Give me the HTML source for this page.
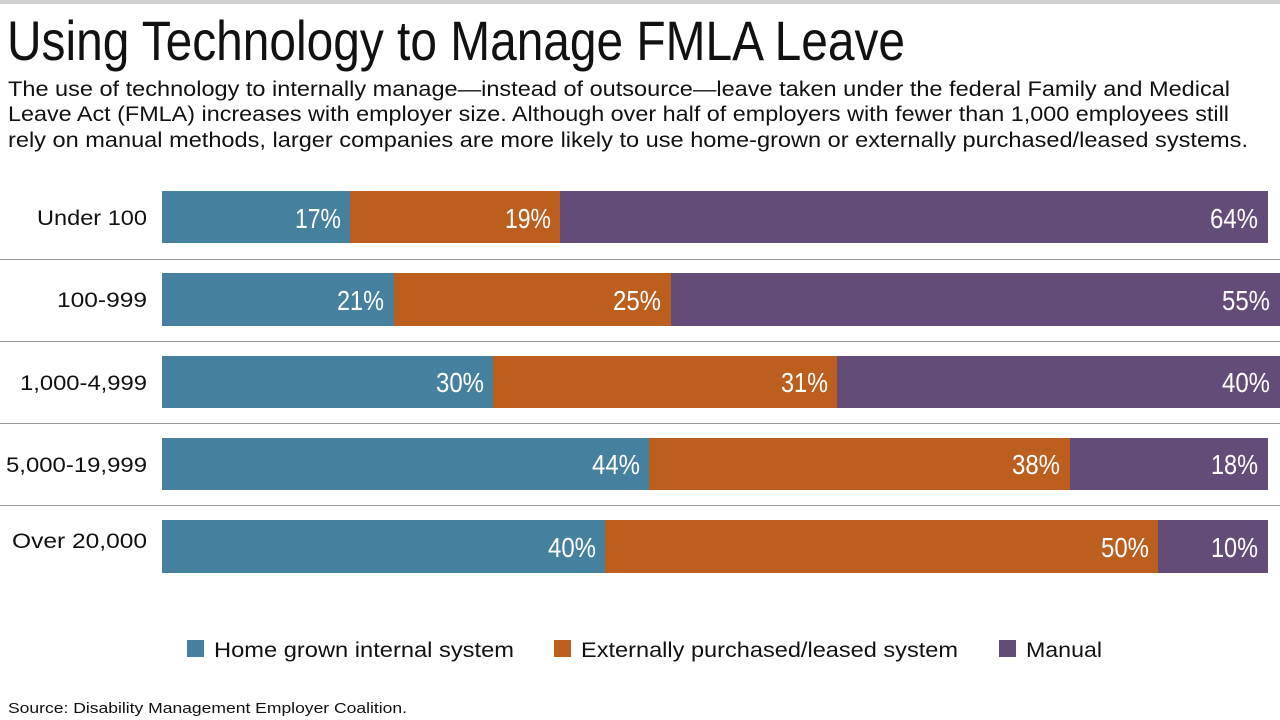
<!DOCTYPE html>
<html><head><meta charset="utf-8"><style>html,body{margin:0;padding:0;background:#fff}svg{display:block}</style></head>
<body>
<svg width="1280" height="720" xmlns="http://www.w3.org/2000/svg" font-family="Liberation Sans, sans-serif">
<rect x="0" y="0" width="1280" height="4" fill="#d0d0d0"/>
<text x="7" y="60" font-family="Liberation Sans Narrow, Liberation Sans, sans-serif" font-size="56" textLength="898" lengthAdjust="spacingAndGlyphs" fill="#111">Using Technology to Manage FMLA Leave</text>
<g font-size="21" fill="#111">
<text x="8" y="96" textLength="1222" lengthAdjust="spacingAndGlyphs">The use of technology to internally manage—instead of outsource—leave taken under the federal Family and Medical</text>
<text x="8" y="121" textLength="1221" lengthAdjust="spacingAndGlyphs">Leave Act (FMLA) increases with employer size. Although over half of employers with fewer than 1,000 employees still</text>
<text x="8" y="147" textLength="1240" lengthAdjust="spacingAndGlyphs">rely on manual methods, larger companies are more likely to use home-grown or externally purchased/leased systems.</text>
</g>
<g stroke="#999" stroke-width="1">
<line x1="0" y1="259.5" x2="1280" y2="259.5"/><line x1="0" y1="341.5" x2="1280" y2="341.5"/>
<line x1="0" y1="423.5" x2="1280" y2="423.5"/><line x1="0" y1="505.5" x2="1280" y2="505.5"/>
</g>
<g font-size="21" fill="#111">
<text x="37" y="225" textLength="110" lengthAdjust="spacingAndGlyphs">Under 100</text>
<text x="57" y="307" textLength="90" lengthAdjust="spacingAndGlyphs">100-999</text>
<text x="20" y="390" textLength="127" lengthAdjust="spacingAndGlyphs">1,000-4,999</text>
<text x="6" y="472" textLength="141" lengthAdjust="spacingAndGlyphs">5,000-19,999</text>
<text x="12" y="548" textLength="135" lengthAdjust="spacingAndGlyphs">Over 20,000</text>
</g>
<g>
<rect x="162" y="191" width="188" height="52" fill="#45809f"/><rect x="350" y="191" width="210" height="52" fill="#bb5e1e"/><rect x="560" y="191" width="708" height="52" fill="#634c77"/>
<rect x="162" y="273" width="232" height="53" fill="#45809f"/><rect x="394" y="273" width="277" height="53" fill="#bb5e1e"/><rect x="671" y="273" width="609" height="53" fill="#634c77"/>
<rect x="162" y="356" width="331" height="52" fill="#45809f"/><rect x="493" y="356" width="344" height="52" fill="#bb5e1e"/><rect x="837" y="356" width="443" height="52" fill="#634c77"/>
<rect x="162" y="438" width="487" height="52" fill="#45809f"/><rect x="649" y="438" width="421" height="52" fill="#bb5e1e"/><rect x="1070" y="438" width="198" height="52" fill="#634c77"/>
<rect x="162" y="520" width="443" height="53" fill="#45809f"/><rect x="605" y="520" width="553" height="53" fill="#bb5e1e"/><rect x="1158" y="520" width="110" height="53" fill="#634c77"/>
</g>
<g font-size="28" fill="#fff">
<text x="295" y="228" textLength="46" lengthAdjust="spacingAndGlyphs">17%</text><text x="505" y="228" textLength="46" lengthAdjust="spacingAndGlyphs">19%</text><text x="1210" y="228" textLength="48" lengthAdjust="spacingAndGlyphs">64%</text>
<text x="337" y="310" textLength="47" lengthAdjust="spacingAndGlyphs">21%</text><text x="613" y="310" textLength="48" lengthAdjust="spacingAndGlyphs">25%</text><text x="1222" y="310" textLength="48" lengthAdjust="spacingAndGlyphs">55%</text>
<text x="436" y="392" textLength="48" lengthAdjust="spacingAndGlyphs">30%</text><text x="781" y="392" textLength="47" lengthAdjust="spacingAndGlyphs">31%</text><text x="1222" y="392" textLength="48" lengthAdjust="spacingAndGlyphs">40%</text>
<text x="592" y="474" textLength="48" lengthAdjust="spacingAndGlyphs">44%</text><text x="1012" y="474" textLength="48" lengthAdjust="spacingAndGlyphs">38%</text><text x="1211" y="474" textLength="47" lengthAdjust="spacingAndGlyphs">18%</text>
<text x="548" y="557" textLength="48" lengthAdjust="spacingAndGlyphs">40%</text><text x="1101" y="557" textLength="48" lengthAdjust="spacingAndGlyphs">50%</text><text x="1211" y="557" textLength="47" lengthAdjust="spacingAndGlyphs">10%</text>
</g>
<rect x="187" y="640" width="17" height="17" fill="#45809f"/>
<rect x="554" y="640" width="17" height="17" fill="#bb5e1e"/>
<rect x="999" y="640" width="17" height="17" fill="#634c77"/>
<g font-size="21" fill="#111">
<text x="214" y="657" textLength="300" lengthAdjust="spacingAndGlyphs">Home grown internal system</text>
<text x="581" y="657" textLength="377" lengthAdjust="spacingAndGlyphs">Externally purchased/leased system</text>
<text x="1026" y="657" textLength="76" lengthAdjust="spacingAndGlyphs">Manual</text>
</g>
<text x="8" y="713" font-size="15" fill="#111" textLength="399" lengthAdjust="spacingAndGlyphs">Source: Disability Management Employer Coalition.</text>
</svg>
</body></html>
